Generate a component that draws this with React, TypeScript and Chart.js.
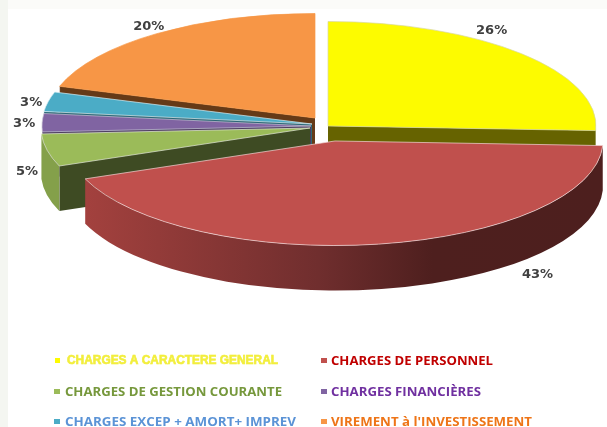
import React, { useEffect, useRef } from "react";
import { Chart, registerables } from "chart.js";

Chart.register(...registerables);

const categories = [
  "CHARGES A CARACTERE GENERAL",
  "CHARGES DE PERSONNEL",
  "CHARGES DE GESTION COURANTE",
  "CHARGES FINANCIÈRES",
  "CHARGES EXCEP + AMORT+ IMPREV",
  "VIREMENT à l'INVESTISSEMENT",
];
const values = [25.7, 43.4, 5.0, 2.8, 3.0, 20.1];
const topColors = ["#fdfb00", "#c0504d", "#9bbb59", "#8064a2", "#4bacc6", "#f79646"];
const faceColors = ["#666300", "#7a2f2d", "#3e4b23", "#4d3c61", "#2d6776", "#653a17"];
const edgeColors = ["#d8d8a0", "#f0d8d8", "#e4ecd4", "#c8c0d4", "#d8eef4", "#f79646"];
const legendColors = ["#f2ee3c", "#c00000", "#76983c", "#7030a0", "#5b93d6", "#ee7518"];

// pie projection
const PIE_X = 318;
const PIE_Y = 128;
const SQUASH = 0.39;
const DEPTH = 45;
// explosion of each slice, in px, and its radius
const shiftX = [10, 17, -8, -7, -6, -3];
const shiftY = [-2, 13, 0, -2, -4, -10];
const radii = [268, 268, 269, 269, 270, 268];
// percent label offset from the slice's rim midpoint
const labelDX = [-30, 159, -20, -18, -17, -8];
const labelDY = [-23, 30, 21, 1, 1, -7];
// legend layout
const legendMarkX = [54, 321];
const legendTextX = [65, 331];
const legendRowY = [360, 391, 421];
const legendWidths = [211, 162, 217, 150, 231, 201];

function sides(ctx: CanvasRenderingContext2D, arcs: any[]) {
  const order = [5, 4, 3, 0, 2, 1];
  for (const i of order) {
    const a = arcs[i];
    const cx = a.x;
    const cy = a.y * SQUASH;
    const rx = a.outerRadius;
    const ry = rx * SQUASH;
    const face = (ang: number) => {
      const px = cx + Math.cos(ang) * rx;
      const py = cy + Math.sin(ang) * ry;
      ctx.beginPath();
      ctx.moveTo(cx, cy);
      ctx.lineTo(px, py);
      ctx.lineTo(px, py + DEPTH);
      ctx.lineTo(cx, cy + DEPTH);
      ctx.closePath();
      ctx.fillStyle = faceColors[i];
      ctx.fill();
      ctx.strokeStyle = "rgba(255,255,255,0.55)";
      ctx.lineWidth = 0.7;
      ctx.beginPath();
      ctx.moveTo(px, py);
      ctx.lineTo(px, py + DEPTH);
      ctx.stroke();
    };
    if (-Math.cos(a.startAngle) > 0.01) face(a.startAngle);
    if (Math.cos(a.endAngle) > 0.01) face(a.endAngle);

    const norm = (v: number) => {
      let r = v % (2 * Math.PI);
      if (r < -0.5 * Math.PI) r += 2 * Math.PI;
      return r;
    };
    const s = norm(a.startAngle);
    const e = s + a.circumference;
    const from = Math.max(s, 0);
    const to = Math.min(e, Math.PI);
    if (to > from) {
      ctx.beginPath();
      ctx.ellipse(cx, cy, rx, ry, 0, from, to);
      ctx.ellipse(cx, cy + DEPTH, rx, ry, 0, to, from, true);
      ctx.closePath();
      if (i === 1) {
        const g = ctx.createLinearGradient(85, 0, 603, 0);
        g.addColorStop(0, "#a3413e");
        g.addColorStop(0.45, "#702e2e");
        g.addColorStop(0.67, "#4e1f1e");
        g.addColorStop(1, "#4d1f1e");
        ctx.fillStyle = g;
      } else if (i === 2) {
        ctx.fillStyle = "#84a04a";
      } else {
        ctx.fillStyle = faceColors[i];
      }
      ctx.fill();
    }
  }
}

const pie3d = {
  id: "pie3d",
  beforeDraw(chart: any) {
    const ctx = chart.ctx;
    ctx.save();
    ctx.fillStyle = "#ffffff";
    ctx.fillRect(0, 0, 607, 427);
    ctx.fillStyle = "#fbfbf9";
    ctx.fillRect(0, 0, 607, 9);
    ctx.fillStyle = "#f4f6f1";
    ctx.fillRect(0, 0, 8, 427);
    ctx.restore();
  },
  beforeDatasetsDraw(chart: any) {
    const ctx = chart.ctx;
    const arcs = chart.getDatasetMeta(0).data;
    arcs.forEach((a: any, i: number) => {
      a.x = PIE_X + shiftX[i];
      a.y = (PIE_Y + shiftY[i]) / SQUASH;
      a.outerRadius = radii[i];
      a.innerRadius = 0;
    });
    sides(ctx, arcs);
    ctx.save();
    ctx.scale(1, SQUASH);
  },
  afterDatasetsDraw(chart: any) {
    const ctx = chart.ctx;
    ctx.restore();
    const arcs = chart.getDatasetMeta(0).data;
    const total = values.reduce((p, v) => p + v, 0);
    ctx.save();
    ctx.font = "bold 13px 'DejaVu Sans'";
    ctx.fillStyle = "#404040";
    ctx.textAlign = "center";
    ctx.textBaseline = "middle";
    arcs.forEach((a: any, i: number) => {
      const mid = (a.startAngle + a.endAngle) / 2;
      const x = a.x + Math.cos(mid) * a.outerRadius + labelDX[i];
      const y = (a.y + Math.sin(mid) * a.outerRadius) * SQUASH + labelDY[i];
      ctx.fillText(Math.round((values[i] / total) * 100) + "%", x, y);
    });
    ctx.textAlign = "left";
    categories.forEach((label, i) => {
      const col = i % 2;
      const row = (i - col) / 2;
      const y = legendRowY[row];
      ctx.fillStyle = topColors[i];
      if (i === 0) ctx.fillRect(legendMarkX[col] + 1, y - 2, 5, 5);
      else ctx.fillRect(legendMarkX[col], y - 2, 6, 5);
      ctx.font = i === 0 ? "bold 12px 'Liberation Sans'" : "bold 12.5px 'Open Sans'";
      ctx.fillStyle = legendColors[i];
      const w = ctx.measureText(label).width;
      ctx.save();
      ctx.translate(legendTextX[col] + (i === 0 ? 2 : 0), y + 1);
      ctx.scale(legendWidths[i] / w, 1);
      if (i === 0) {
        ctx.strokeStyle = legendColors[i];
        ctx.lineWidth = 0.6;
        ctx.strokeText(label, 0, 0);
      }
      ctx.fillText(label, 0, 0);
      ctx.restore();
    });
    ctx.restore();
  },
};

export default function App() {
  const ref = useRef<HTMLCanvasElement>(null);
  useEffect(() => {
    const chart = new Chart(ref.current!, {
      type: "pie",
      data: {
        labels: categories,
        datasets: [
          {
            data: values,
            backgroundColor: topColors,
            borderColor: edgeColors,
            borderWidth: 1,
            clip: false,
          } as any,
        ],
      },
      options: {
        responsive: false,
        animation: false,
        plugins: { legend: { display: false }, tooltip: { enabled: false } },
      },
      plugins: [pie3d],
    });
    return () => chart.destroy();
  }, []);
  return (
    <div style={{ position: "fixed", left: 0, top: 0, width: 607, height: 427 }}>
      <canvas ref={ref} width={607} height={427} style={{ display: "block", filter: "blur(0.35px)" }} />
    </div>
  );
}
